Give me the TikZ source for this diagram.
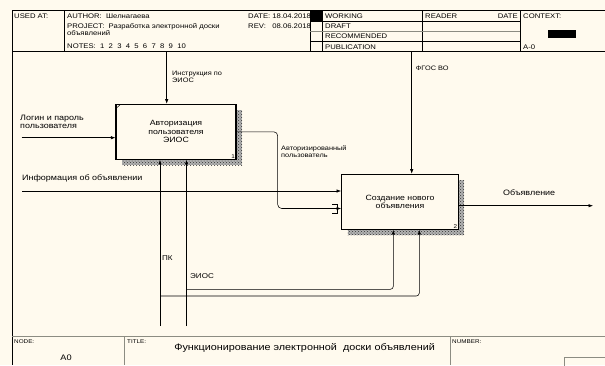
\documentclass[tikz,border=0pt]{standalone}
\usepackage{fontspec}
\setmainfont{Liberation Sans}[FakeStretch=1.15]
\usetikzlibrary{arrows.meta,patterns}
\definecolor{paper}{RGB}{255,250,238}
\definecolor{frame}{RGB}{140,140,130}

\begin{document}
\begin{tikzpicture}[x=1pt,y=-1pt,
  func/.style={draw,line width=1.2pt,fill=paper,minimum height=55pt,inner sep=0pt,align=center,font=\fontsize{7.6}{8.5}\selectfont},
  shade/.style={fill=black!30,postaction={pattern=crosshatch dots,pattern color=black!80}},
  flow/.style={-{Latex[length=4.5pt,width=3.4pt]},line width=0.55pt},
  lbl/.style={anchor=north west,inner sep=0pt,align=left,font=\fontsize{6.4}{7.2}\selectfont},
  big/.style={anchor=north west,inner sep=0pt,align=left,font=\fontsize{7.8}{8.7}\selectfont},
  hdr/.style={anchor=base west,inner sep=0pt,font=\fontsize{6.7}{7.2}\selectfont},
  tag/.style={anchor=base west,inner sep=0pt,font=\fontsize{5.5}{6}\selectfont},
  num/.style={anchor=south east,inner sep=1.6pt,font=\fontsize{5.5}{6}\selectfont},
  grid/.style={line width=0.6pt},
  rim/.style={line width=0.9pt,draw=frame}]
\fill[paper] (0,0) rectangle (605,365);
\useasboundingbox (0,0) rectangle (605,365);

% frame and header grid
\draw[grid] (605,10.7) -- (12,10.7) -- (12,365);
\draw[grid] (12,51.7) -- (605,51.7);
\draw[grid] (64,10.7) -- (64,51.7);
\foreach \x in {310,322,422,520} {
  \draw[grid] (\x,10.7) -- (\x,51.7);
}
\draw[grid] (310,21) -- (520,21);
\draw[grid,draw=frame,line width=1pt] (310,31) -- (520,31);
\draw[grid] (310,41.5) -- (520,41.5);
\fill (310,10.7) rectangle (322,21);
\fill (548,30) rectangle (576,38);

% header texts
\node[hdr] (used) at (14,18.2) {USED AT:};
\node[hdr] (author) at (67,18.2) {AUTHOR:\ \ Шелнагаева};
\node[hdr,align=left,anchor=north west] (project) at (67,23.3) {PROJECT:\ \ Разработка электронной доски\\объявлений};
\node[hdr] (notes) at (67,48.6) {NOTES:\ \ 1\ \ 2\ \ 3\ \ 4\ \ 5\ \ 6\ \ 7\ \ 8\ \ 9\ \ 10};
\node[hdr] (date) at (248,18.2) {DATE: 18.04.2018};
\node[hdr] (rev) at (248,28.2) {REV:\ \ \ 08.06.2018};
\foreach \y/\lab in {18.2/WORKING, 28.4/DRAFT, 38.6/RECOMMENDED, 49/PUBLICATION} {
  \node[hdr] (st-\lab) at (325,\y) {\lab};
}
\node[hdr] (reader) at (425,18.2) {READER};
\node[hdr,anchor=base east] (rdate) at (518,18.2) {DATE};
\node[hdr] (context) at (523,18.2) {CONTEXT:};
\node[hdr] (page) at (523,49) {A-0};

% functions
\fill[shade] (122,110) rectangle (242,165.3);
\node[func,minimum width=120pt] (a1) at (176,131.8) {Авторизация\\пользователя\\ЭИОС};
\draw[line width=0.5pt] (116,108.5) -- (120.5,104.3);
\node[num] (n1) at (a1.south east) {1};

\fill[shade] (347.7,180.3) rectangle (464.3,235.3);
\node[func,minimum width=116.6pt] (a2) at (400,201.8) {Создание нового\\объявления};
\node[num] (n2) at (a2.south east) {2};

% arrows
\coordinate (ctl1) at (166.7,51.7);
\coordinate (ctl2) at (411.7,51.7);
\coordinate (in1) at (21.7,137.7);
\coordinate (in2) at (22,191);
\coordinate (out2) at (593,205.7);
\coordinate (pc) at (160,326);
\coordinate (eios) at (186.5,326);

\draw[flow] (ctl1) -- (ctl1 |- a1.north);
\draw[flow] (ctl2) -- (ctl2 |- a2.north);
\draw[flow] (in1) -- (in1 -| a1.west);
\draw[flow] (in2) -- (in2 -| a2.west);
\draw[flow,rounded corners=4pt] (a1.east) -- (277.7,131.8) |- ([yshift=-6.7pt]a2.west);
\draw[line width=0.5pt] (332,204.5) -- (337,204.5) -- (337,213) -- (332,213);
\draw[flow] (out2 -| a2.east) -- (out2);
\draw[flow] (pc) -- (pc |- a1.south);
\draw[flow] (eios) -- (eios |- a1.south);
\draw[flow,rounded corners=3pt] (pc |- 0,296) -| ([xshift=19.3pt]a2.south);
\draw[flow,rounded corners=3pt] (eios |- 0,289.3) -| ([xshift=-6.7pt]a2.south);

% arrow labels
\node[lbl] (l-instr) at (172,71) {Инструкция по\\ЭИОС};
\node[big] (l-login) at (20,114.6) {Логин и пароль\\пользователя};
\node[big] (l-info) at (22,174.6) {Информация об объявлении};
\node[lbl] (l-auth) at (281,145.4) {Авторизированный\\пользователь};
\node[lbl] (l-fgos) at (415.7,65.8) {ФГОС ВО};
\node[big] (l-ad) at (503,189.4) {Объявление};
\node[lbl,font=\fontsize{7}{8}\selectfont] (l-pc) at (162,255.5) {ПК};
\node[lbl,font=\fontsize{7}{8}\selectfont] (l-eios) at (190,273.3) {ЭИОС};

% bottom frame
\draw[rim] (12,336.7) -- (605,336.7);
\draw[rim] (124,336.7) -- (124,365);
\draw[rim] (450,336.7) -- (450,365);
\draw[rim] (564,370) -- (564,357) -- (610,357);
\node[tag] (t-node) at (14,343.5) {NODE:};
\node[tag] (t-title) at (127,343.5) {TITLE:};
\node[tag] (t-number) at (452,343.5) {NUMBER:};
\node[font=\fontsize{8}{9}\selectfont] (t-a0) at (66,358) {A0};
\node[font=\fontsize{9.4}{11}\selectfont] (t-main) at (304.6,347.5) {Функционирование электронной\ \ доски объявлений};
\end{tikzpicture}
\end{document}
